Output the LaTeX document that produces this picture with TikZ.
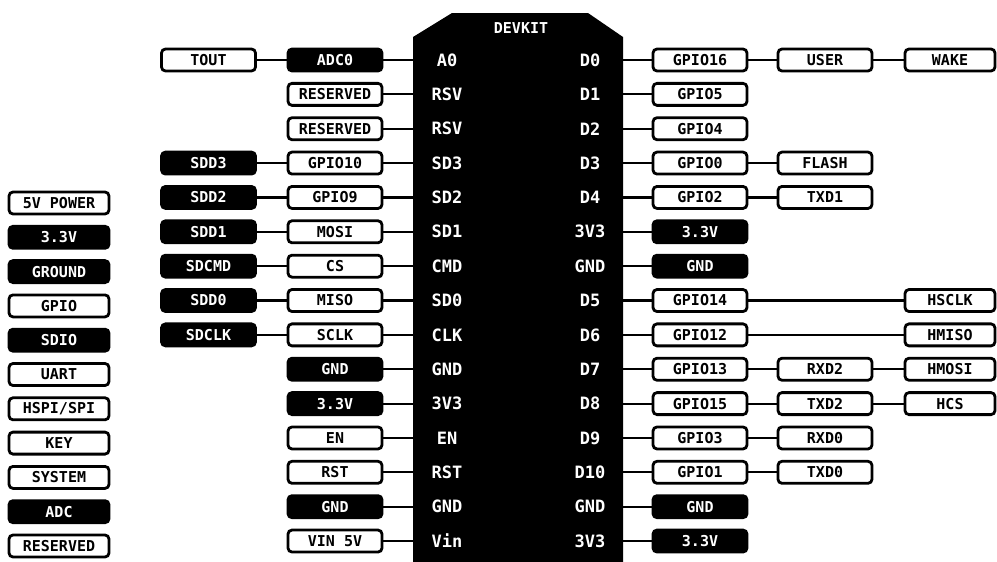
\documentclass[tikz,border=0pt]{standalone}
\usepackage{fontspec}
\setmonofont{DejaVu Sans Mono}
\begin{document}
\begin{tikzpicture}[x=1pt,y=-1pt,
  box/.style={draw=black, line width=2.8pt, rounded corners=4pt, fill=white, text=black,
    minimum width=94pt, minimum height=22pt, inner sep=0pt,
    font=\ttfamily\bfseries\fontsize{15}{15}\selectfont},
  dark/.style={box, fill=black, text=white},
  wire/.style={line width=2.2pt},
  pin/.style={text=white, inner sep=0pt, font=\ttfamily\bfseries\fontsize{17}{17}\selectfont}]
\useasboundingbox (0,0) rectangle (997,562);
% board
\fill[black] (413,562) -- (413,37) -- (452,13) -- (588,13) -- (623,37) -- (623,562) -- cycle;
\node[pin, font=\ttfamily\bfseries\fontsize{15}{15}\selectfont] (title) at (521,28) {DEVKIT};
\foreach \i in {0,...,14} {
  \coordinate (row\i) at (0,{60+34.36*\i});
  \coordinate (BL\i) at (413,{60+34.36*\i});
  \coordinate (BR\i) at (623,{60+34.36*\i});
}
% board pin labels
\foreach \t [count=\i from 0] in {A0,RSV,RSV,SD3,SD2,SD1,CMD,SD0,CLK,GND,3V3,EN,RST,GND,Vin}
  \node[pin] (PL\i) at ([xshift=447pt]row\i) {\t};
\foreach \t [count=\i from 0] in {D0,D1,D2,D3,D4,3V3,GND,D5,D6,D7,D8,D9,D10,GND,3V3}
  \node[pin] (PR\i) at ([xshift=590pt]row\i) {\t};
% left column next to board
\foreach \t/\s [count=\i from 0] in {ADC0/dark,RESERVED/box,RESERVED/box,GPIO10/box,GPIO9/box,MOSI/box,CS/box,MISO/box,SCLK/box,GND/dark,3.3V/dark,EN/box,RST/box,GND/dark,VIN 5V/box} {
  \node[\s] (L\i) at ([xshift=335pt]row\i) {\t};
  \draw[wire] (L\i.east) -- (BL\i);
}
% right column next to board
\foreach \t/\s [count=\i from 0] in {GPIO16/box,GPIO5/box,GPIO4/box,GPIO0/box,GPIO2/box,3.3V/dark,GND/dark,GPIO14/box,GPIO12/box,GPIO13/box,GPIO15/box,GPIO3/box,GPIO1/box,GND/dark,3.3V/dark} {
  \node[\s] (R\i) at ([xshift=700pt]row\i) {\t};
  \draw[wire] (BR\i) -- (R\i.west);
}
% outer left column
\node[box] (LL0) at ([xshift=208.5pt]row0) {TOUT};
\foreach \t [count=\i from 3] in {SDD3,SDD2,SDD1,SDCMD,SDD0,SDCLK}
  \node[dark] (LL\i) at ([xshift=208.5pt]row\i) {\t};
\foreach \i in {0,3,4,5,6,7,8}
  \draw[wire] (LL\i.east) -- (L\i.west);
% right second column
\foreach \t/\i in {USER/0,FLASH/3,TXD1/4,RXD2/9,TXD2/10,RXD0/11,TXD0/12} {
  \node[box] (RR\i) at ([xshift=825pt]row\i) {\t};
  \draw[wire] (R\i.east) -- (RR\i.west);
}
% right third column
\foreach \t/\i in {WAKE/0,HSCLK/7,HMISO/8,HMOSI/9,HCS/10}
  \node[box, minimum width=90pt] (RRR\i) at ([xshift=950pt]row\i) {\t};
\foreach \i in {0,9,10}
  \draw[wire] (RR\i.east) -- (RRR\i.west);
\foreach \i in {7,8}
  \draw[wire] (R\i.east) -- (RRR\i.west);
% legend
\tikzset{leg/.style={minimum width=100pt}}
\node[box,leg]  (G0) at (59,203) {5V POWER};
\node[dark,leg] (G1) at (59,237.3) {3.3V};
\node[dark,leg] (G2) at (59,271.6) {GROUND};
\node[box,leg]  (G3) at (59,305.9) {GPIO};
\node[dark,leg] (G4) at (59,340.2) {SDIO};
\node[box,leg]  (G5) at (59,374.5) {UART};
\node[box,leg]  (G6) at (59,408.8) {HSPI/SPI};
\node[box,leg]  (G7) at (59,443.1) {KEY};
\node[box,leg]  (G8) at (59,477.4) {SYSTEM};
\node[dark,leg] (G9) at (59,511.7) {ADC};
\node[box,leg]  (G10) at (59,546) {RESERVED};
\end{tikzpicture}
\end{document}
